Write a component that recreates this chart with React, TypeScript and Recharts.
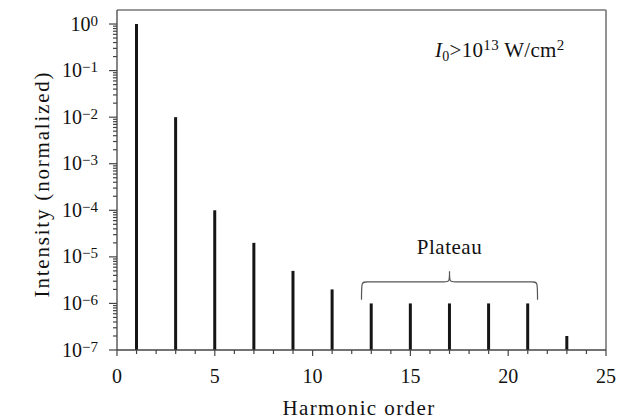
import React from "react";
import { ComposedChart, Bar, XAxis, YAxis, ReferenceLine, ReferenceArea } from "recharts";

const harmonics = [1, 3, 5, 7, 9, 11, 13, 15, 17, 19, 21, 23];
const intensities = [1, 1e-2, 1e-4, 2e-5, 5e-6, 2e-6, 1e-6, 1e-6, 1e-6, 1e-6, 1e-6, 2e-7];

const xTicks = [0, 1, 2, 3, 4, 5, 6, 7, 8, 9, 10, 11, 12, 13, 14, 15, 16, 17, 18, 19, 20, 21, 22, 23, 24, 25];
const xLabelTicks = [0, 5, 10, 15, 20, 25];
const yMajorTicks = [1e-7, 1e-6, 1e-5, 1e-4, 1e-3, 1e-2, 1e-1, 1];
const yExponents = ["−7", "−6", "−5", "−4", "−3", "−2", "−1", "0"];
const yMinorMultipliers = [2, 3, 4, 5, 6, 7, 8, 9];
const yMin = 1e-7;
const yMax = 2;
const plateauStart = 12.5;
const plateauEnd = 21.5;
const braceBottom = 1.2e-6;
const braceTop = 4.9e-6;

const yMinorTicks: number[] = [];
yMajorTicks.slice(0, -1).forEach((d) => yMinorMultipliers.forEach((m) => yMinorTicks.push(d * m)));
const yTicks = [...yMajorTicks, ...yMinorTicks].sort((a, b) => a - b);

const data = harmonics.map((h, i) => ({ harmonic: h, range: [yMin, intensities[i]] }));

const FONT = "'Liberation Serif', 'Times New Roman', serif";
const AXIS = "#444";
const FRAME = "#777";
const TEXT = "#111";

const majorIndex = (v: number) =>
  yMajorTicks.findIndex((m) => Math.abs(Math.log10(m) - Math.log10(v)) < 1e-6);

const YTick = (props: any) => {
  const { x, y, payload } = props;
  const idx = majorIndex(payload.value);
  const major = idx >= 0;
  return (
    <g>
      <line x1={x - (major ? 8 : 4)} x2={x} y1={y} y2={y} stroke={AXIS} strokeWidth={1.2} />
      {major && (
        <text x={x - 19} y={y + 6.5} textAnchor="end" fontFamily={FONT} fontSize={20} fill={TEXT}>
          10
          <tspan fontSize={15} dy={-5}>{yExponents[idx]}</tspan>
        </text>
      )}
    </g>
  );
};

const XTick = (props: any) => {
  const { x, y, payload } = props;
  const major = xLabelTicks.includes(payload.value);
  return (
    <g>
      <line x1={x} x2={x} y1={y} y2={y + (major ? 6 : 4)} stroke={AXIS} strokeWidth={1.2} />
      {major && (
        <text x={x} y={y + 33} textAnchor="middle" fontFamily={FONT} fontSize={20} fill={TEXT}>
          {payload.value}
        </text>
      )}
    </g>
  );
};

const Brace = (props: any) => {
  const { x, y, width, height } = props;
  const x0 = x;
  const x1 = x + width;
  const cx = x + width / 2;
  const top = y;
  const bottom = y + height;
  const hy = y + height * 0.37;
  const r = 6;
  const d = `M ${x0} ${bottom} C ${x0} ${hy} ${x0} ${hy} ${x0 + r} ${hy} L ${cx - r} ${hy} C ${cx} ${hy} ${cx} ${hy} ${cx} ${top} C ${cx} ${hy} ${cx} ${hy} ${cx + r} ${hy} L ${x1 - r} ${hy} C ${x1} ${hy} ${x1} ${hy} ${x1} ${bottom}`;
  return (
    <g>
      <path d={d} fill="none" stroke="#555" strokeWidth={1.2} />
      <text x={cx} y={top - 17} textAnchor="middle" fontFamily={FONT} fontSize={21} letterSpacing={0.5} fill={TEXT}>
        Plateau
      </text>
    </g>
  );
};

export default function App() {
  return (
    <div style={{ position: "absolute", left: 0, top: 0, width: 621, height: 420, background: "#fff" }}>
      <ComposedChart width={621} height={420} data={data} margin={{ top: 10, right: 15, bottom: 0, left: 0 }}>
        <XAxis
          dataKey="harmonic"
          type="number"
          domain={[0, 25]}
          ticks={xTicks}
          interval={0}
          tickSize={0}
          tickMargin={0}
          tickLine={false}
          tick={XTick}
          height={70}
          axisLine={{ stroke: AXIS, strokeWidth: 1.3 }}
          allowDataOverflow
        />
        <YAxis
          type="number"
          scale="log"
          domain={[yMin, yMax]}
          ticks={yTicks}
          interval={0}
          tickSize={0}
          tickMargin={0}
          tickLine={false}
          tick={YTick}
          width={117}
          axisLine={{ stroke: AXIS, strokeWidth: 1.3 }}
          allowDataOverflow
        />
        <ReferenceLine y={yMax} stroke={FRAME} strokeWidth={1.6} ifOverflow="visible" />
        <ReferenceLine x={25} stroke={FRAME} strokeWidth={1.6} ifOverflow="visible" />
        <ReferenceArea
          x1={plateauStart}
          x2={plateauEnd}
          y1={braceBottom}
          y2={braceTop}
          ifOverflow="visible"
          shape={(p: any) => <Brace {...p} />}
        />
        <Bar dataKey="range" fill="#151515" barSize={3} isAnimationActive={false} />
      </ComposedChart>
      <svg width={621} height={420} style={{ position: "absolute", left: 0, top: 0, pointerEvents: "none" }}>
        <text x={359} y={415} textAnchor="middle" fontFamily={FONT} fontSize={21} letterSpacing={1.4} fill={TEXT}>
          Harmonic order
        </text>
        <text
          transform="translate(49,184) rotate(-90)"
          textAnchor="middle"
          fontFamily={FONT}
          fontSize={21}
          letterSpacing={1.8}
          fill={TEXT}
        >
          Intensity (normalized)
        </text>
        <text x={435} y={57} fontFamily={FONT} fontSize={21} letterSpacing={0.3} fill={TEXT}>
          <tspan fontStyle="italic">I</tspan>
          <tspan fontSize={14} dy={4}>0</tspan>
          <tspan dy={-4}>&gt;10</tspan>
          <tspan fontSize={15} dy={-7}>13</tspan>
          <tspan dy={7}> W/cm</tspan>
          <tspan fontSize={15} dy={-7}>2</tspan>
        </text>
      </svg>
    </div>
  );
}
